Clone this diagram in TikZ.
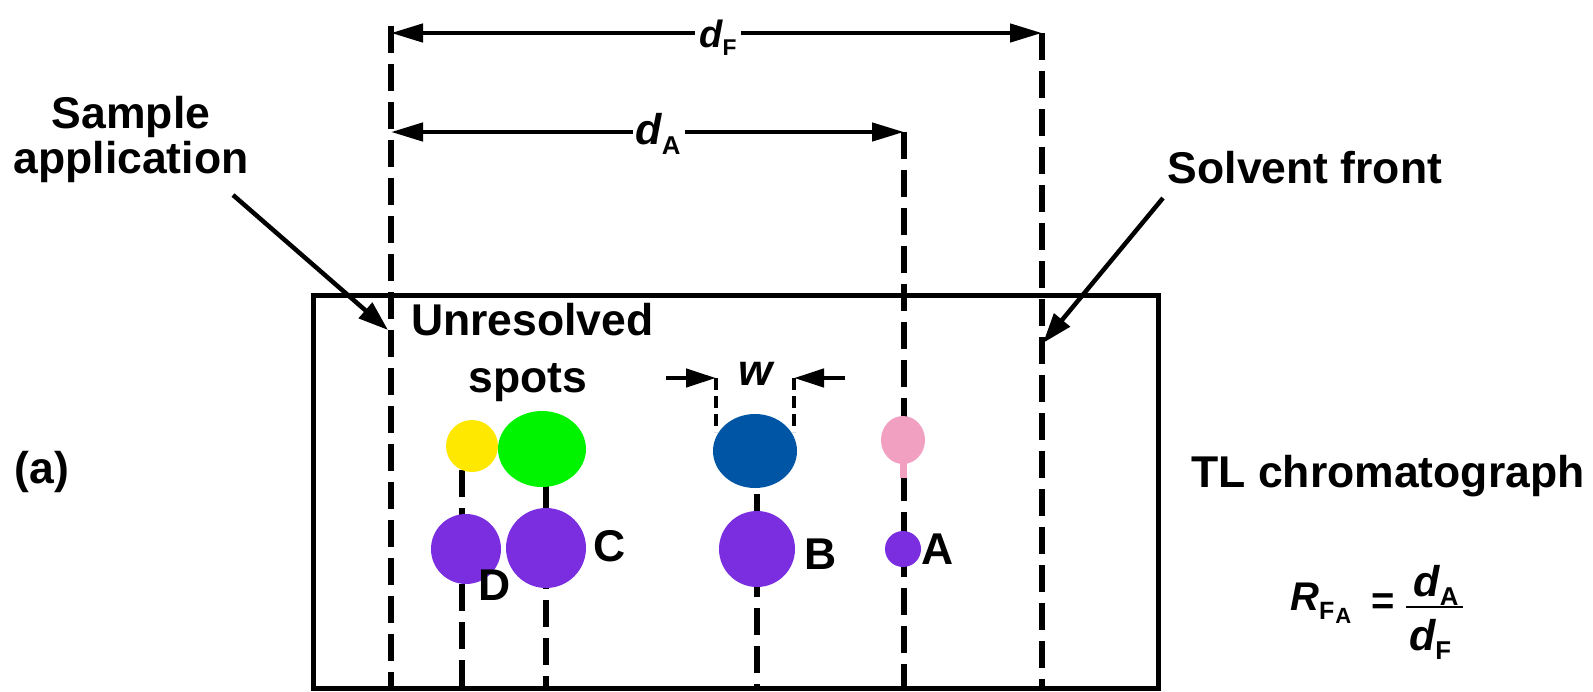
\documentclass[tikz,border=0pt]{standalone}
\usepackage{fontspec}
\setmainfont{Liberation Sans}
\usetikzlibrary{arrows.meta}
\definecolor{spyellow}{HTML}{FFE800}
\definecolor{spgreen}{HTML}{00F400}
\definecolor{spblue}{HTML}{0055A4}
\definecolor{sppink}{HTML}{F2A0C2}
\definecolor{sppurple}{HTML}{7A2EE0}
\newcommand{\distlab}[3]{{\fontsize{#3}{#3}\selectfont\bfseries\itshape #1\raisebox{-0.22em}{\fontsize{0.6\dimexpr#3pt\relax}{1pt}\selectfont\upshape #2}}}
\begin{document}
\begin{tikzpicture}[x=1pt,y=-1pt,
  lbl/.style={font=\fontsize{44.5}{45}\selectfont\bfseries, inner sep=0pt},
  guide/.style={line width=5.5pt, dash pattern=on 27pt off 11pt},
  shortguide/.style={line width=4pt, dash pattern=on 12pt off 6pt},
  dimarrow/.style={line width=4.5pt, -{Triangle[length=32pt,width=18pt]}},
  warrow/.style={line width=4.5pt, -{Triangle[length=30pt,width=18pt]}},
  pointer/.style={line width=4.5pt, -{Triangle[length=30pt,width=20pt]}},
  plate/.style={line width=5pt},
  dimlbl/.style={inner sep=0pt}]

\useasboundingbox (0,0) rectangle (1593,691);

% plate
\draw[plate] (313,295) rectangle (1158,688);

% guide coordinates
\coordinate (sTop) at (391,26);   \coordinate (sBot) at (391,688);
\coordinate (fTop) at (1042,33);  \coordinate (fBot) at (1042,688);
\coordinate (aTop) at (904,132);  \coordinate (aBot) at (904,688);
\coordinate (dTop) at (462,470);  \coordinate (dBot) at (462,688);
\coordinate (cTop) at (546,486);  \coordinate (cBot) at (546,688);
\coordinate (bTop) at (757,494);  \coordinate (bBot) at (757,688);

\draw[guide] (sTop) -- (sBot);
\draw[guide] (fTop) -- (fBot);
\draw[guide] (aTop) -- (aBot);
\draw[guide] (dTop) -- (dBot);
\draw[guide] (cTop) -- (cBot);
\draw[guide] (bTop) -- (bBot);

% distance d_F
\coordinate (sF) at (391,33);
\node[dimlbl] (dF) at (718,38) {\distlab{d}{F}{38}};
\draw[dimarrow] ([xshift=-4pt]dF.west |- sF) -- (sF);
\draw[dimarrow] ([xshift=4pt]dF.east |- sF) -- (fTop);

% distance d_A
\coordinate (sA) at (391,132);
\node[dimlbl] (dA) at (658,134) {\distlab{d}{A}{43}};
\draw[dimarrow] ([xshift=-2pt]dA.west |- sA) -- (sA);
\draw[dimarrow] ([xshift=4pt]dA.east |- sA) -- (aTop);

% width w
\coordinate (wL) at (716,378); \coordinate (wR) at (794,378);
\coordinate (wLs) at (666,378); \coordinate (wRs) at (845,378);
\draw[shortguide] (wL) -- (716,432);
\draw[shortguide] (wR) -- (794,432);
\draw[warrow] (wLs) -- (wL);
\draw[warrow] (wRs) -- (wR);
\node[dimlbl] (w) at (756,374) {\fontsize{44}{44}\selectfont\bfseries\itshape w};

% spots, upper row
\fill[spyellow] (472,446) circle[radius=26];
\fill[spgreen] (542,449) ellipse[x radius=44, y radius=38];
\fill[spblue] (755,451) ellipse[x radius=42, y radius=37];
\fill[sppink] (900,455) rectangle (907,478);
\fill[sppink] (903,440) ellipse[x radius=22, y radius=24];

% spots, lower row
\fill[sppurple] (466,549) circle[radius=35];
\fill[sppurple] (546,548) circle[radius=40];
\fill[sppurple] (757,549) circle[radius=38];
\fill[sppurple] (903,549) circle[radius=18];

% spot letters
\node[lbl] (C) at (610,546) {C};
\node[lbl] (B) at (821,554) {B};
\node[lbl] (A) at (938,549) {A};
\node[lbl] (D) at (495,585) {D};

% texts
\node[lbl, anchor=base west] (unres) at (411,335) {Unresolved};
\node[lbl, anchor=base] (spots) at (528,392) {spots};
\node[lbl] (a) at (42,472) {(a)};
\node[lbl, anchor=base] (tl) at (1388,487) {TL chromatograph};
\node[lbl, align=center] (sample) at (131,139) {Sample\\application};
\node[lbl, anchor=base] (solvent) at (1305,183) {Solvent front};

% pointers
\coordinate (sampStart) at (233,195);
\coordinate (sampTip) at (388,330);
\coordinate (solvStart) at (1163,198);
\coordinate (solvTip) at (1043,343);
\draw[pointer] (sampStart) -- (sampTip);
\draw[pointer] (solvStart) -- (solvTip);

% formula R_FA = d_A / d_F
\node[inner sep=0pt, anchor=base west] (rf) at (1290,610)
  {\fontsize{40}{40}\selectfont\bfseries\itshape R\raisebox{-9pt}{\fontsize{25}{25}\selectfont\upshape F\kern1pt\raisebox{-4pt}{\fontsize{22}{22}\selectfont A}}};
\node[inner sep=0pt, anchor=base] (eq) at (1383,614) {\fontsize{40}{40}\selectfont\bfseries =};
\coordinate (barL) at (1406,607); \coordinate (barR) at (1463,607);
\draw[line width=2.5pt] (barL) -- (barR);
\node[inner sep=0pt, anchor=base] (num) at (1436,596) {\distlab{d}{A}{43}};
\node[inner sep=0pt, anchor=base] (den) at (1430,650) {\distlab{d}{F}{43}};
\end{tikzpicture}
\end{document}
